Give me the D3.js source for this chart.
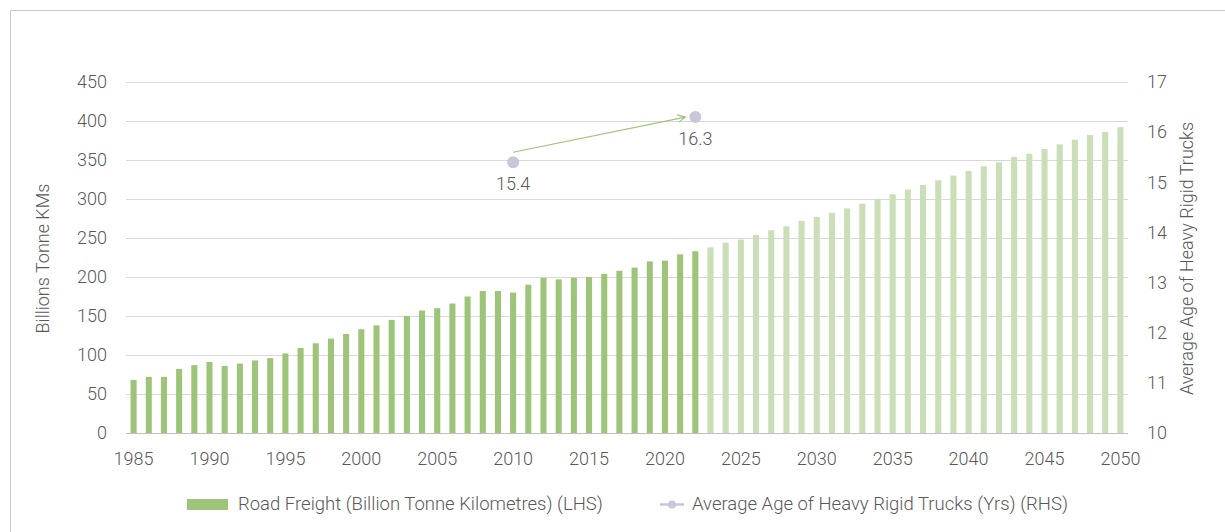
<!DOCTYPE html>
<html lang="en">
<head>
  <meta charset="UTF-8" />
  <title>Road Freight and Truck Age</title>
  <style>
    body {
      margin: 0;
      background: #fff;
      font-family: Roboto, "Noto Sans", Arial, sans-serif;
    }
    svg text {
      fill: #595959;
      font-weight: 300;
    }
  </style>
  <script src="https://d3js.org/d3.v7.min.js"></script>
</head>
<body>
  <div id="chart"></div>
  <script>
    const width = 1225;
    const height = 532;

    // categories
    const years = d3.range(1985, 2051);
    const lastActualYear = 2022;

    // road freight, billion tonne km (actual 1985-2022, projected 2023-2050)
    const freightActual = [68, 72, 72, 82, 87, 91, 86, 89, 93, 96, 102, 109, 115, 121, 127, 133, 138, 145, 150,
      157, 160, 166, 175, 182, 182, 180, 190, 199, 197, 199, 200, 204, 208, 212, 220, 221, 229, 233];
    const freightProjected = [238, 244, 248, 254, 260, 265, 272, 277, 282, 288, 294, 300, 306, 312, 318, 324,
      330, 336, 342, 347, 354, 358, 364, 370, 376, 382, 386, 392];

    // average age of heavy rigid trucks (yrs)
    const ageYears = [2010, 2022];
    const ageValues = [15.4, 16.3];

    const leftTicks = [0, 50, 100, 150, 200, 250, 300, 350, 400, 450];
    const rightTicks = [10, 11, 12, 13, 14, 15, 16, 17];
    const xTickYears = [1985, 1990, 1995, 2000, 2005, 2010, 2015, 2020, 2025, 2030, 2035, 2040, 2045, 2050];

    const freight = freightActual.concat(freightProjected);

    const margin = { top: 82, right: 97, bottom: 99, left: 126 };
    const plotW = width - margin.left - margin.right;
    const plotH = height - margin.top - margin.bottom;
    const fontSize = "18px";

    const svg = d3.select("#chart")
      .append("svg")
      .attr("width", width)
      .attr("height", height);

    // outer frame
    svg.append("rect")
      .attr("x", 10.5)
      .attr("y", 10.5)
      .attr("width", width + 10)
      .attr("height", height + 10)
      .attr("fill", "none")
      .attr("stroke", "#c9c9c9");

    const g = svg.append("g")
      .attr("transform", `translate(${margin.left},${margin.top})`);

    const x = d3.scaleBand()
      .domain(years)
      .range([0, plotW])
      .paddingInner(0.6)
      .paddingOuter(0.3);

    const y = d3.scaleLinear().domain([0, 450]).range([plotH, 0]);
    const yR = d3.scaleLinear().domain([10, 17]).range([plotH, 0]);

    // gridlines
    g.append("g")
      .selectAll("line")
      .data(leftTicks.filter(d => d > 0))
      .enter()
      .append("line")
      .attr("x1", 0)
      .attr("x2", plotW)
      .attr("y1", d => Math.round(y(d)) + 0.5)
      .attr("y2", d => Math.round(y(d)) + 0.5)
      .attr("stroke", "#d9d9d9")
      .attr("stroke-width", 1);

    // bars
    g.append("g")
      .selectAll("rect")
      .data(years.map((yr, i) => ({ year: yr, value: freight[i] })))
      .enter()
      .append("rect")
      .attr("x", d => x(d.year))
      .attr("width", x.bandwidth())
      .attr("y", d => y(d.value))
      .attr("height", d => y(0) - y(d.value))
      .attr("fill", d => d.year <= lastActualYear ? "#9ec47a" : "#cadeb7");

    // baseline
    g.append("line")
      .attr("x1", 0)
      .attr("x2", plotW)
      .attr("y1", Math.round(y(0)) + 0.5)
      .attr("y2", Math.round(y(0)) + 0.5)
      .attr("stroke", "#bfbfbf");

    // left axis
    const leftAxis = g.append("g")
      .call(d3.axisLeft(y).tickValues(leftTicks).tickSize(0).tickPadding(19));
    leftAxis.select(".domain").remove();

    // right axis
    const rightAxis = g.append("g")
      .attr("transform", `translate(${plotW},0)`)
      .call(d3.axisRight(yR).tickValues(rightTicks).tickFormat(d3.format("d")).tickSize(0).tickPadding(19));
    rightAxis.select(".domain").remove();

    // bottom axis
    const bottomAxis = g.append("g")
      .attr("transform", `translate(0,${plotH})`)
      .call(d3.axisBottom(x).tickValues(xTickYears).tickSize(0).tickPadding(19));
    bottomAxis.select(".domain").remove();

    g.selectAll(".tick text")
      .attr("fill", "#595959")
      .style("font-size", fontSize)
      .style("font-family", "Roboto, sans-serif")
      .style("font-weight", 300);

    // axis titles
    svg.append("text")
      .attr("transform", `translate(49,${margin.top + plotH / 2 + 1}) rotate(-90)`)
      .attr("text-anchor", "middle")
      .style("font-size", fontSize)
      .text("Billions Tonne KMs");

    svg.append("text")
      .attr("transform", `translate(1193,${margin.top + plotH / 2 + 1}) rotate(-90)`)
      .attr("text-anchor", "middle")
      .style("font-size", fontSize)
      .text("Average Age of Heavy Rigid Trucks");

    // arrow between the two age points
    svg.append("defs")
      .append("marker")
      .attr("id", "arrowHead")
      .attr("viewBox", "0 0 10 10")
      .attr("refX", 9)
      .attr("refY", 5)
      .attr("markerWidth", 8)
      .attr("markerHeight", 8)
      .attr("orient", "auto")
      .append("path")
      .attr("d", "M1,1 L9,5 L1,9")
      .attr("fill", "none")
      .attr("stroke", "#9ec47a")
      .attr("stroke-width", 1.2);

    const cx = yr => x(yr) + x.bandwidth() / 2;

    g.append("line")
      .attr("x1", cx(ageYears[0]))
      .attr("y1", yR(ageValues[0]) - 10)
      .attr("x2", cx(ageYears[1]) - 10)
      .attr("y2", yR(ageValues[1]))
      .attr("stroke", "#9ec47a")
      .attr("stroke-width", 1.2)
      .attr("marker-end", "url(#arrowHead)");

    // age points
    const agePoints = ageYears.map((yr, i) => ({ year: yr, value: ageValues[i] }));

    g.append("g")
      .selectAll("circle")
      .data(agePoints)
      .enter()
      .append("circle")
      .attr("cx", d => cx(d.year))
      .attr("cy", d => yR(d.value))
      .attr("r", 6)
      .attr("fill", "#c6c8da");

    g.append("g")
      .selectAll("text")
      .data(agePoints)
      .enter()
      .append("text")
      .attr("x", d => cx(d.year))
      .attr("y", d => yR(d.value) + 28)
      .attr("text-anchor", "middle")
      .style("font-size", fontSize)
      .text(d => d.value.toFixed(1));

    // legend
    const legend = svg.append("g");
    legend.append("rect")
      .attr("x", 187)
      .attr("y", 499)
      .attr("width", 41)
      .attr("height", 11)
      .attr("fill", "#9ec47a");
    legend.append("text")
      .attr("x", 238)
      .attr("y", 510)
      .style("font-size", "18.5px")
      .text("Road Freight (Billion Tonne Kilometres) (LHS)");

    legend.append("line")
      .attr("x1", 660)
      .attr("x2", 684)
      .attr("y1", 504.5)
      .attr("y2", 504.5)
      .attr("stroke", "#c6c8da")
      .attr("stroke-width", 2.5);
    legend.append("circle")
      .attr("cx", 672)
      .attr("cy", 504.5)
      .attr("r", 4)
      .attr("fill", "#c6c8da");
    legend.append("text")
      .attr("x", 692)
      .attr("y", 510)
      .style("font-size", "18.5px")
      .text("Average Age of Heavy Rigid Trucks (Yrs) (RHS)");
  </script>
</body>
</html>
